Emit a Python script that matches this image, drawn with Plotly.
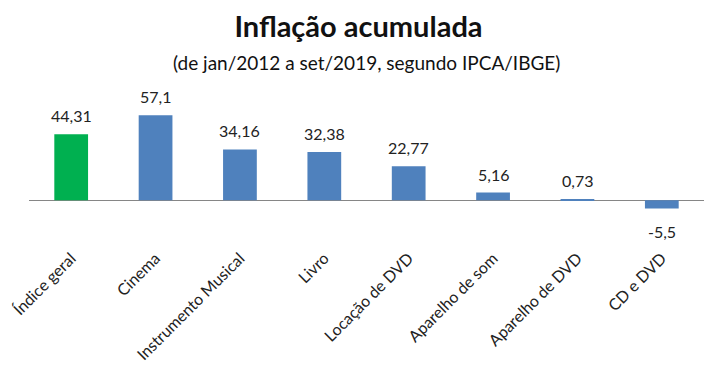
import plotly.graph_objects as go

categories = ["Índice geral", "Cinema", "Instrumento Musical", "Livro",
              "Locação de DVD", "Aparelho de som", "Aparelho de DVD", "CD e DVD"]
values = [44.31, 57.1, 34.16, 32.38, 22.77, 5.16, 0.73, -5.5]
colors = ["#00B050"] + ["#4F81BD"] * 7
labels = [str(v).replace(".", ",") for v in values]

FONT = "Lato, Open Sans, sans-serif"

fig = go.Figure()
fig.add_trace(go.Bar(x=categories, y=values, marker=dict(color=colors, line=dict(width=0)),
                     hoverinfo="skip"))

for c, v, t in zip(categories, values, labels):
    fig.add_annotation(x=c, y=v, text=t, showarrow=False,
                       yanchor="bottom" if v >= 0 else "top",
                       yshift=7 if v >= 0 else -11,
                       font=dict(family=FONT, size=16, color="#222222"))

fig.add_annotation(xref="paper", yref="paper", x=0.5, y=1.228, xanchor="center", yanchor="middle",
                   text="(de jan/2012 a set/2019, segundo IPCA/IBGE)", showarrow=False,
                   font=dict(family=FONT, size=19, color="#111111"))

fig.update_layout(
    width=717, height=373,
    margin=dict(l=29, r=13, t=96, b=128, autoexpand=False),
    paper_bgcolor="white", plot_bgcolor="white",
    showlegend=False,
    bargap=0.6,
    title=dict(text="<b>Inflação acumulada</b>", x=0.5, xanchor="center", y=1 - 27 / 373,
               yanchor="middle", font=dict(family=FONT, size=29, color="#111111")),
    xaxis=dict(showline=False, showgrid=False, ticks="", tickangle=-45, automargin=False,
               tickfont=dict(family=FONT, size=16, color="#222222")),
    yaxis=dict(range=[-30, 70], showgrid=False, showticklabels=False, ticks="", automargin=False,
               zeroline=True, zerolinecolor="#868686", zerolinewidth=1.3, showline=False),
)

fig.write_html("out.html", config={"displayModeBar": False},
               post_script="document.body.style.margin='0';")
